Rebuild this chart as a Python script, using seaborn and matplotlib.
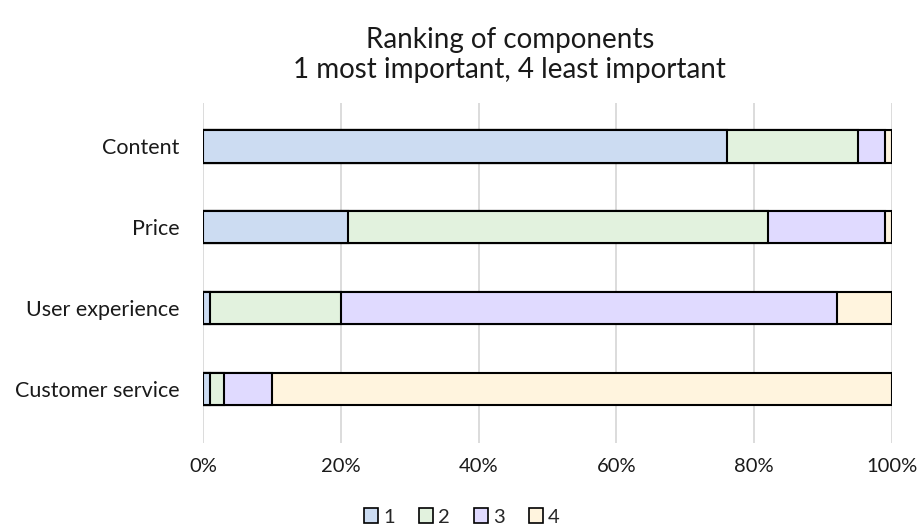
import numpy as np
import pandas as pd
import matplotlib
matplotlib.use("Agg")
import matplotlib.pyplot as plt
from matplotlib.patches import Patch
from matplotlib.ticker import PercentFormatter
import seaborn as sns

components = ["Content", "Price", "User experience", "Customer service"]
rank_labels = ["1", "2", "3", "4"]
rank1 = [76, 21, 1, 1]
rank2 = [19, 61, 19, 2]
rank3 = [4, 17, 72, 7]
rank4 = [1, 1, 8, 90]
colors = ["#CCDCF2", "#E2F2DE", "#E0DAFF", "#FFF4DE"]

sns.set_theme(style="white")
plt.rcParams["font.family"] = ["Lato", "DejaVu Sans"]

df = pd.DataFrame({"component": components, "1": rank1, "2": rank2,
                   "3": rank3, "4": rank4})
cum = df[rank_labels].cumsum(axis=1)

fig = plt.figure(figsize=(9.22, 5.31), dpi=100)
ax = fig.add_axes([203 / 922, 1 - 443 / 531, 689 / 922, 340 / 531])

# Stacked bars: draw cumulative totals from the outermost segment inward
for lab, col in reversed(list(zip(rank_labels, colors))):
    sns.barplot(x=cum[lab], y=df["component"], orient="h", color=col,
                edgecolor="black", linewidth=1.5, width=0.4,
                saturation=1, ax=ax, zorder=3)

ax.set_xlim(0, 100)
ax.set_ylim(3.667, -0.537)
ax.xaxis.set_major_locator(plt.MultipleLocator(20))
ax.xaxis.set_major_formatter(PercentFormatter(decimals=0))
ax.grid(axis="x", color="#D9D9D9", linewidth=1.3, zorder=0)
ax.grid(axis="y", visible=False)
for s in ax.spines.values():
    s.set_visible(False)
ax.set_xlabel("")
ax.set_ylabel("")
ax.tick_params(axis="x", length=0, pad=11, labelsize=14.5, colors="#1a1a1a")
ax.tick_params(axis="y", length=0, pad=17, labelsize=15.5, colors="#1a1a1a")

fig.text(0.553, 1 - 40 / 531, "Ranking of components", ha="center",
         va="center", fontsize=20, color="#1a1a1a")
fig.text(0.553, 1 - 70 / 531, "1 most important, 4 least important",
         ha="center", va="center", fontsize=20, color="#1a1a1a")

handles = [Patch(facecolor=c, edgecolor="black", linewidth=1.2)
           for c in colors]
fig.legend(handles, rank_labels, loc="center", ncol=4,
           bbox_to_anchor=(462 / 922, 1 - 517 / 531), frameon=False,
           fontsize=14.5, handlelength=0.7, handleheight=0.7,
           handletextpad=0.25, columnspacing=1.2)

fig.savefig("out.png", dpi=100)
